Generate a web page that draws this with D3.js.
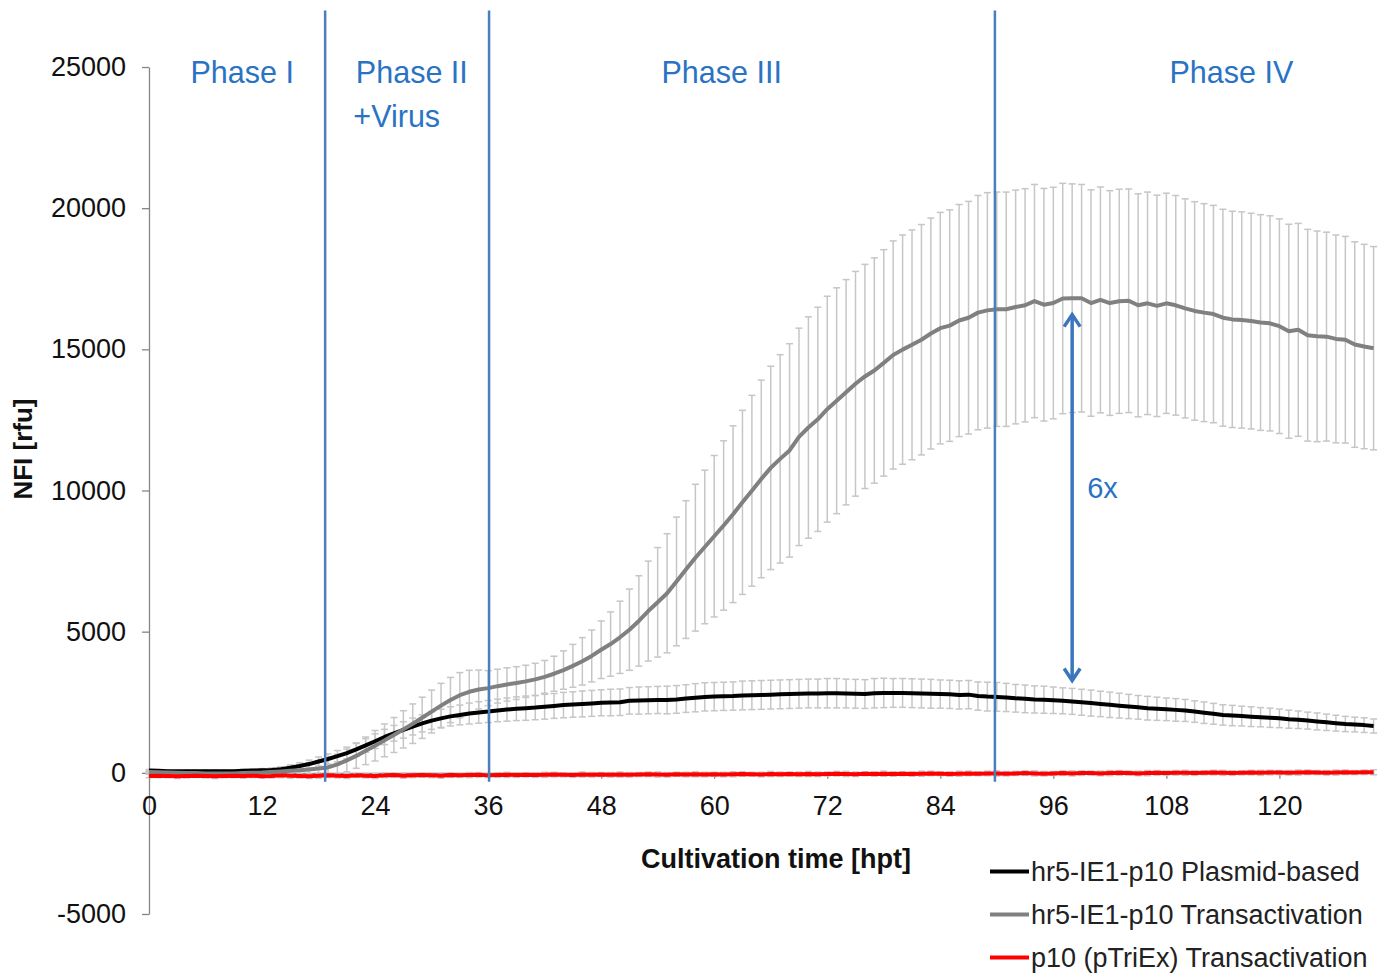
<!DOCTYPE html>
<html>
<head>
<meta charset="utf-8">
<script src="https://cdn.jsdelivr.net/npm/d3@7"></script>
<style>
body { margin: 0; background: #fff; }
svg { font-family: "Liberation Sans", Arial, sans-serif; }
</style>
</head>
<body>
<svg id="chart" width="1383" height="973"></svg>
<script>

////// data, one value per hour (0..130 hpt) //////
var plasmidMean = [
  80,70,60,60,60,60,60,60,60,60,
  70,80,90,100,130,180,240,310,400,490,
  590,700,830,970,1120,1270,1400,1520,1640,1750,
  1850,1930,2000,2050,2100,2140,2170,2210,2240,2270,
  2290,2310,2340,2370,2400,2420,2440,2460,2480,2490,
  2500,2550,2560,2570,2580,2580,2600,2630,2660,2690,
  2700,2710,2720,2740,2750,2760,2770,2780,2790,2800,
  2810,2810,2820,2820,2810,2800,2790,2820,2830,2830,
  2830,2820,2810,2800,2790,2780,2760,2770,2720,2700,
  2690,2670,2640,2620,2600,2590,2570,2550,2530,2500,
  2470,2440,2410,2380,2350,2320,2290,2270,2250,2230,
  2210,2170,2130,2090,2050,2030,2010,1990,1970,1950,
  1930,1900,1880,1850,1820,1790,1760,1730,1710,1690,
  1660];
var plasmidErr = [
  40,40,40,40,40,40,40,40,40,40,
  50,50,60,70,80,100,120,140,160,180,
  200,210,230,240,260,270,280,290,300,300,
  310,320,340,350,370,380,390,400,410,420,
  430,430,440,440,450,450,460,460,460,470,
  470,470,480,480,480,490,490,490,500,500,
  500,500,500,510,510,510,510,510,510,510,
  510,510,520,520,510,510,510,520,520,510,
  510,510,510,510,500,500,500,500,500,510,
  510,500,490,490,480,480,470,460,460,460,
  460,450,450,440,430,420,420,410,400,400,
  390,380,380,370,360,360,350,350,340,340,
  330,320,310,300,300,290,280,270,260,260,
  250];

var transMean = [
  30,20,10,0,-10,-10,-20,-20,-20,-20,
  -10,0,10,30,50,70,90,120,150,190,
  300,440,600,780,960,1150,1340,1540,1740,1950,
  2170,2380,2580,2750,2870,2950,3000,3070,3130,3180,
  3240,3310,3400,3510,3640,3790,3950,4140,4360,4560,
  4800,5070,5380,5730,6040,6360,6780,7200,7620,8000,
  8380,8760,9160,9580,9990,10410,10800,11120,11420,11900,
  12230,12520,12880,13180,13480,13780,14040,14250,14520,14800,
  14990,15160,15340,15560,15750,15840,16020,16120,16300,16380,
  16420,16420,16500,16560,16710,16580,16640,16800,16810,16810,
  16640,16750,16640,16700,16720,16560,16630,16540,16630,16560,
  16450,16360,16300,16250,16120,16060,16040,16000,15950,15920,
  15820,15640,15690,15500,15460,15450,15370,15340,15170,15100,
  15040];
var transErr = [
  40,40,40,40,40,40,40,40,50,50,
  60,70,90,110,140,170,200,240,280,320,
  360,400,440,490,540,580,620,660,700,730,
  760,790,800,800,760,690,620,600,590,580,
  570,570,580,620,680,760,840,920,1020,1140,
  1280,1440,1600,1770,1940,2110,2280,2440,2600,2720,
  2860,3000,3130,3260,3380,3500,3600,3690,3780,3850,
  3920,3970,4000,4000,3990,3980,3970,3990,4010,4040,
  4060,4070,4080,4090,4100,4100,4110,4120,4150,4170,
  4150,4150,4140,4130,4130,4120,4100,4080,4050,4030,
  4010,4000,3980,3970,3960,3950,3940,3920,3900,3890,
  3880,3870,3860,3850,3840,3830,3830,3820,3820,3810,
  3800,3790,3770,3750,3730,3700,3680,3660,3640,3620,
  3600];

var p10Mean = [
  -110,-100,-110,-120,-110,-100,-110,-120,-110,-100,
  -110,-100,-120,-110,-90,-100,-110,-120,-100,-90,
  -100,-110,-90,-100,-110,-90,-80,-100,-90,-80,
  -90,-100,-80,-90,-80,-70,-90,-80,-70,-80,
  -70,-80,-70,-60,-70,-80,-60,-70,-60,-70,
  -60,-70,-60,-50,-60,-70,-50,-60,-50,-60,
  -50,-60,-50,-40,-50,-60,-40,-50,-40,-50,
  -40,-50,-40,-30,-40,-50,-30,-40,-30,-40,
  -30,-40,-30,-20,-30,-40,-30,-20,-30,-20,
  -20,-30,-20,-10,-20,-30,-20,-10,-20,-10,
  -10,-20,-10,0,-10,-20,-10,0,-10,0,
  0,-10,0,10,0,-10,0,10,0,10,
  10,0,10,20,10,0,10,20,10,20,
  20];
var p10Err = [
  60,70,60,80,70,60,70,80,60,70,
  80,70,60,70,80,90,70,80,90,70,
  80,90,70,80,90,80,70,90,80,70,
  80,90,80,70,90,80,70,80,90,80,
  70,80,90,80,70,80,90,80,70,80,
  90,80,70,80,90,80,70,80,90,80,
  70,80,90,80,70,80,90,80,70,80,
  90,80,70,80,90,80,70,80,90,80,
  70,80,90,80,70,80,90,80,70,80,
  90,80,70,80,90,80,70,80,90,80,
  70,80,90,80,70,80,90,80,70,80,
  90,80,70,80,90,80,70,80,90,80,
  70,80,90,80,70,80,90,80,70,80,
  90];

var xTicks = [0,12,24,36,48,60,72,84,96,108,120];
var yTicks = [-5000,0,5000,10000,15000,20000,25000];

var phaseLines = [18.7, 36.1, 89.8];
var phaseNames = ["Phase I", "Phase II", "Phase III", "Phase IV"];
var phaseAt = [9.9, 27.9, 60.8, 114.9];

var legendNames = ["hr5-IE1-p10 Plasmid-based", "hr5-IE1-p10 Transactivation", "p10 (pTriEx) Transactivation"];
var legendColors = ["#000000", "#808080", "#ff0000"];

// arrow between the two curves at 98 hpt
var arrowHour = 98, arrowTop = 16300, arrowBottom = 3200;

/////////////// scales & axes //////////
var svg = d3.select("#chart");
var x = d3.scaleLinear().domain([0, 130]).range([149, 1373.6]);
var y = d3.scaleLinear().domain([-5000, 25000]).range([914, 67]);

var yAxis = svg.append("g")
    .attr("transform", "translate(" + x(0) + ",0)")
    .call(d3.axisLeft(y).tickValues(yTicks).tickSize(7).tickSizeOuter(0).tickPadding(16).tickFormat(d => String(d)));
var xAxis = svg.append("g")
    .attr("transform", "translate(0," + y(0) + ")")
    .call(d3.axisBottom(x).tickValues(xTicks).tickSize(6).tickSizeOuter(0).tickPadding(17));

[yAxis, xAxis].forEach(function (g) {
  g.attr("font-family", null).attr("font-size", null);
  g.selectAll("path, line").attr("stroke", "#868686").attr("stroke-width", 1.3);
  g.selectAll("text").attr("fill", "#111").style("font-size", "27px");
});

/////////////// error bars //////////
var series = [
  {mean: plasmidMean, err: plasmidErr, color: "#000000"},
  {mean: transMean, err: transErr, color: "#808080"},
  {mean: p10Mean, err: p10Err, color: "#ff0000"}
];

var bars = svg.append("g").attr("stroke", "#c6c6c6").attr("stroke-width", 1.5);
series.forEach(function (s) {
  var pts = s.mean.map(function (m, i) { return {h: i, m: m, e: s.err[i]}; });
  var g = bars.selectAll(null).data(pts).join("g");
  g.append("line")
      .attr("x1", d => x(d.h)).attr("x2", d => x(d.h))
      .attr("y1", d => y(d.m - d.e)).attr("y2", d => y(d.m + d.e));
  g.append("line")
      .attr("x1", d => x(d.h) - 3.5).attr("x2", d => x(d.h) + 3.5)
      .attr("y1", d => y(d.m + d.e)).attr("y2", d => y(d.m + d.e));
  g.append("line")
      .attr("x1", d => x(d.h) - 3.5).attr("x2", d => x(d.h) + 3.5)
      .attr("y1", d => y(d.m - d.e)).attr("y2", d => y(d.m - d.e));
});

/////////////// lines //////////
var line = d3.line().x((d, i) => x(i)).y(d => y(d));
series.forEach(function (s) {
  svg.append("path")
      .attr("d", line(s.mean))
      .attr("fill", "none")
      .attr("stroke", s.color)
      .attr("stroke-width", 4)
      .attr("stroke-linejoin", "round");
});

/////////////// phase separators & labels //////////
svg.selectAll(".phase").data(phaseLines).join("line")
    .attr("class", "phase")
    .attr("x1", d => x(d)).attr("x2", d => x(d))
    .attr("y1", y(27000)).attr("y2", y(-320))
    .attr("stroke", "#4a7ebf").attr("stroke-width", 2.5);

svg.selectAll(".phaseLabel").data(phaseNames).join("text")
    .attr("class", "phaseLabel")
    .attr("x", (d, i) => x(phaseAt[i]))
    .attr("y", 83)
    .attr("text-anchor", "middle")
    .attr("fill", "#2a73c4")
    .style("font-size", "30.5px")
    .text(d => d);

svg.append("text")
    .attr("x", x(26.3)).attr("y", 127)
    .attr("text-anchor", "middle")
    .attr("fill", "#2a73c4")
    .style("font-size", "30.5px")
    .text("+Virus");

/////////////// 6x arrow //////////
var ax = x(arrowHour), ay1 = y(arrowTop), ay2 = y(arrowBottom);
var arrow = svg.append("g").attr("stroke", "#3a75bd").attr("stroke-width", 3.5).attr("fill", "none");
arrow.append("line").attr("x1", ax).attr("x2", ax).attr("y1", ay1 + 2).attr("y2", ay2 - 2);
arrow.append("polyline").attr("points", [[ax - 8, ay1 + 14], [ax, ay1 + 2], [ax + 8, ay1 + 14]].join(" "));
arrow.append("polyline").attr("points", [[ax - 8, ay2 - 14], [ax, ay2 - 2], [ax + 8, ay2 - 14]].join(" "));

svg.append("text")
    .attr("x", ax + 15).attr("y", 498)
    .attr("fill", "#2a73c4")
    .style("font-size", "29px")
    .text("6x");

/////////////// axis titles //////////
svg.append("text")
    .attr("x", 776).attr("y", 868)
    .attr("text-anchor", "middle")
    .attr("font-weight", "bold")
    .attr("fill", "#111")
    .style("font-size", "27px")
    .text("Cultivation time [hpt]");

svg.append("text")
    .attr("transform", "translate(32,449) rotate(-90)")
    .attr("text-anchor", "middle")
    .attr("font-weight", "bold")
    .attr("fill", "#111")
    .style("font-size", "26px")
    .text("NFI [rfu]");

/////////////// legend //////////
var leg = svg.selectAll(".leg").data(legendNames).join("g")
    .attr("class", "leg")
    .attr("transform", (d, i) => "translate(990," + (871.5 + i * 43) + ")");
leg.append("line")
    .attr("x1", 0).attr("x2", 39)
    .attr("stroke", (d, i) => legendColors[i])
    .attr("stroke-width", 4);
leg.append("text")
    .attr("x", 41).attr("y", 9.5)
    .attr("fill", "#222")
    .style("font-size", "27px")
    .text(d => d);

</script>
</body>
</html>
